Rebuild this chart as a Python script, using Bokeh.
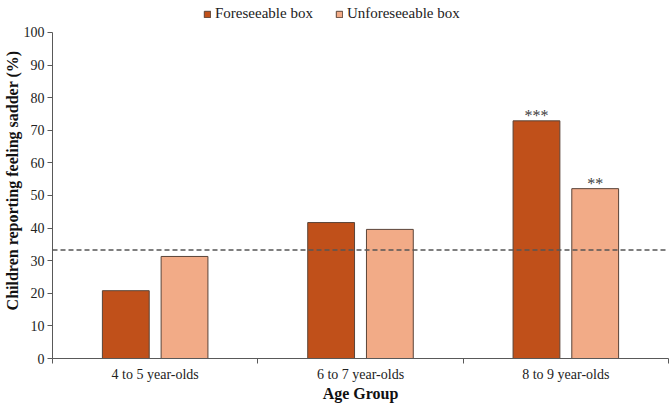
from bokeh.plotting import figure
from bokeh.models import (ColumnDataSource, FixedTicker, Range1d, Span, Legend,
                          LegendItem)
from bokeh.core.properties import value
from bokeh.embed import file_html
from bokeh.resources import INLINE

# Data: percentage of children reporting feeling sadder, by age group
age_groups = ["4 to 5 year-olds", "6 to 7 year-olds", "8 to 9 year-olds"]
foreseeable = [20.8, 41.7, 72.9]
unforeseeable = [31.3, 39.6, 52.1]
foreseeable_sig = ["", "", "***"]
unforeseeable_sig = ["", "", "**"]
chance_level = 33.3
y_ticks = [0, 10, 20, 30, 40, 50, 60, 70, 80, 90, 100]

FONT = "Liberation Serif"
C_FORE = "#C0501A"
C_UNFORE = "#F2AB87"
C_EDGE = "#5a4438"

offset = 0.143
bar_w = 0.228
centers = [i + 0.5 for i in range(len(age_groups))]

src_f = ColumnDataSource(dict(x=[c - offset for c in centers], top=foreseeable,
                              sig=foreseeable_sig))
src_u = ColumnDataSource(dict(x=[c + offset for c in centers], top=unforeseeable,
                              sig=unforeseeable_sig))

# extra headroom above 100 holds the legend; the axis itself stops at 100
p = figure(width=670, height=407, output_backend="svg", toolbar_location=None,
           x_range=Range1d(0, len(age_groups)), y_range=Range1d(0, 109.2),
           min_border_left=49, min_border_right=2, min_border_top=2,
           min_border_bottom=49)
p.outline_line_color = None
p.grid.grid_line_color = None
p.background_fill_color = "white"
p.border_fill_color = "white"

r_f = p.vbar(x="x", top="top", width=bar_w, source=src_f, fill_color=C_FORE,
             line_color=C_EDGE, line_width=1)
r_u = p.vbar(x="x", top="top", width=bar_w, source=src_u, fill_color=C_UNFORE,
             line_color=C_EDGE, line_width=1)

# chance level reference line
p.add_layout(Span(location=chance_level, dimension="width", line_color="#555555",
                  line_dash="5 3", line_width=1.5))

# significance markers
for src in (src_f, src_u):
    p.text(x="x", y="top", text="sig", source=src, text_align="center",
           text_baseline="alphabetic", y_offset=-5, text_font=value(FONT),
           text_font_size="16px", text_color="#404040")

# x axis: labels at group centres, ticks at group boundaries
xa = p.xaxis[0]
xa.ticker = FixedTicker(ticks=centers, minor_ticks=list(range(len(age_groups) + 1)))
xa.major_label_overrides = {c: lab for c, lab in zip(centers, age_groups)}
xa.major_tick_out = 0
xa.major_tick_in = 0
xa.minor_tick_out = 5
xa.minor_tick_in = 0
xa.minor_tick_line_color = "#595959"
xa.axis_line_color = "#595959"
xa.major_label_standoff = 3
xa.major_label_text_font = FONT
xa.major_label_text_font_size = "14px"
xa.major_label_text_color = "#222222"
xa.axis_label = "Age Group"
xa.axis_label_text_font = FONT
xa.axis_label_text_font_size = "16px"
xa.axis_label_text_font_style = "bold"
xa.axis_label_text_color = "#111111"
xa.axis_label_standoff = 0

ya = p.yaxis[0]
ya.ticker = FixedTicker(ticks=y_ticks, minor_ticks=[])
ya.bounds = (0, 100)
ya.major_tick_out = 5
ya.major_tick_in = 0
ya.major_tick_line_color = "#595959"
ya.axis_line_color = "#595959"
ya.major_label_standoff = 3
ya.major_label_text_font = FONT
ya.major_label_text_font_size = "14px"
ya.major_label_text_color = "#222222"
ya.axis_label = "Children reporting feeling sadder (%)"
ya.axis_label_text_font = FONT
ya.axis_label_text_font_size = "16px"
ya.axis_label_text_font_style = "bold"
ya.axis_label_text_color = "#111111"
ya.axis_label_standoff = 0

legend = Legend(items=[LegendItem(label="Foreseeable box", renderers=[r_f]),
                       LegendItem(label="Unforeseeable box", renderers=[r_u])],
                orientation="horizontal", location=(151, 336),
                glyph_width=8, glyph_height=8, label_standoff=4, spacing=22,
                padding=0, margin=0, border_line_color=None,
                background_fill_alpha=0, label_text_font=FONT,
                label_text_font_size="15px", label_text_color="#222222",
                label_height=16)
p.add_layout(legend, "center")

open("out.html", "w").write(file_html(p, INLINE))
